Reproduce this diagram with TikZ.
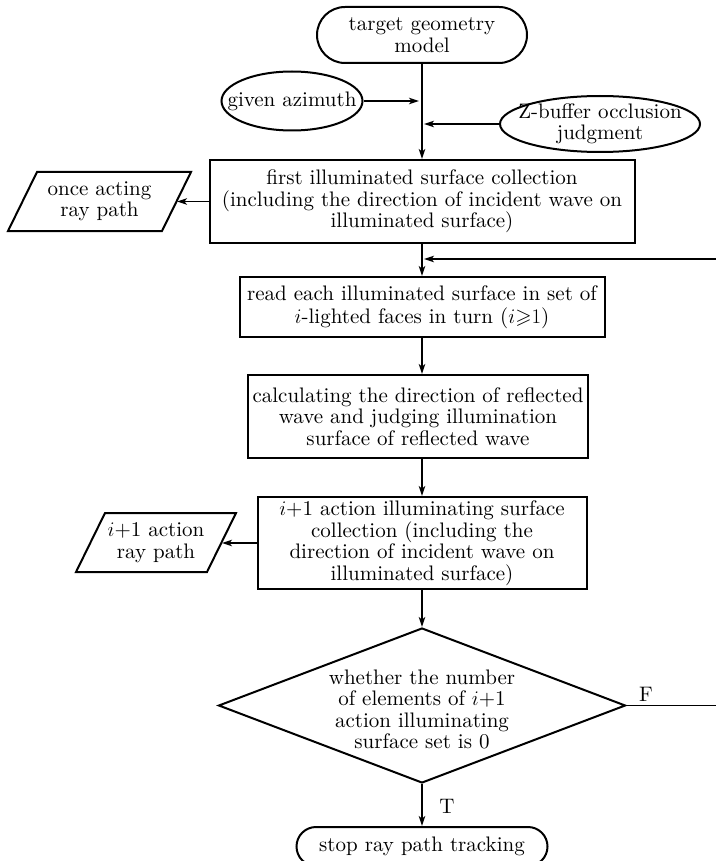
\documentclass[tikz,border=0pt]{standalone}
\usepackage{amssymb}
\usepackage{fontspec}
\setmainfont{lmroman10-regular}[Extension=.otf, ItalicFont=lmroman10-italic, BoldFont=lmroman10-bold]
\usetikzlibrary{arrows.meta,shapes.geometric,shapes.misc}
\begin{document}
\begin{tikzpicture}[x=1pt,y=-1pt,
  every node/.style={font=\fontsize{21}{21.5}\selectfont},
  box/.style={draw, line width=2pt, rectangle, align=center, inner sep=0pt},
  shp/.style={draw, line width=2pt, inner sep=0pt},
  outline/.style={line width=2pt, line join=miter},
  conn/.style={line width=1.4pt},
  arr/.style={conn, -{Stealth[length=10pt,width=6.5pt,inset=2.5pt]}}]
\useasboundingbox (0,0) rectangle (715,861);

\node[box, rounded corners=28pt, minimum width=210pt, minimum height=56pt] (target) at (422,35) {target geometry\\model};
\node[shp, ellipse, minimum width=141pt, minimum height=59pt, label={center:given azimuth}] (az) at (292,101) {};
\node[shp, ellipse, minimum width=200pt, minimum height=56pt, label={[align=center]center:Z-buffer occlusion\\judgment}] (zb) at (600,124) {};
\node[box, minimum width=425pt, minimum height=83pt] (first) at (422,201.5) {first illuminated surface collection\\(including the direction of incident wave on\\illuminated surface)};
\node[align=center] (p1) at (99.5,201.5) {once acting\\ray path};
\draw[outline, shift={(p1.center)}] (-62.5,-29.5) -- (91.5,-29.5) -- (62.5,29.5) -- (-91.5,29.5) -- cycle;
\coordinate (p1r) at (177,201.5);
\node[box, minimum width=365pt, minimum height=60pt] (read) at (422,307) {read each illuminated surface in set of\\[1.5pt]$i$-lighted faces in turn ($i{\geqslant}1$)};
\node[box, minimum width=340pt, minimum height=83pt] (calc) at (418,416.5) {calculating the direction of reflected\\wave and judging illumination\\surface of reflected wave};
\node[box, minimum width=329pt, minimum height=92pt] (next) at (422,543) {$i$+1 action illuminating surface\\collection (including the\\direction of incident wave on\\illuminated surface)};
\node[align=center] (p2) at (156,542.5) {$i$+1 action\\ray path};
\draw[outline, shift={(p2.center)}] (-51,-29.5) -- (80,-29.5) -- (51,29.5) -- (-80,29.5) -- cycle;
\coordinate (p2r) at (222,542.5);
\node[shp, diamond, minimum width=407pt, minimum height=155pt, label={[align=center,yshift=-4pt]center:whether the number\\of elements of $i$+1\\action illuminating\\surface set is 0}] (dec) at (422,705.5) {};
\node[box, rounded corners=19.5pt, minimum width=251pt, minimum height=39pt] (stop) at (422,846.5) {stop ray path tracking};
\node (flab) at (646,694) {F};
\node (tlab) at (447,806) {T};
\coordinate (loopR) at (722,259);

\draw[arr] (target.south) -- (target.south |- first.north);
\draw[arr, shorten >=3pt] (az.east) -- (az.east -| target.south);
\draw[arr, shorten >=2pt] (zb.west) -- (zb.west -| target.south);
\draw[arr] (first.west) -- (first.west -| p1r);
\draw[arr] (first.south) -- (read.north);
\draw[arr, shorten >=2pt] (dec.east) -- (dec.east -| loopR) -- (loopR) -- (loopR -| target.south);
\draw[arr] (read.south) -- (read.south |- calc.north);
\draw[arr] (read.south |- calc.south) -- (next.north);
\draw[arr] (next.south) -- (dec.north);
\draw[arr] (next.west) -- (next.west -| p2r);
\draw[arr] (dec.south) -- (stop.north);
\end{tikzpicture}
\end{document}
